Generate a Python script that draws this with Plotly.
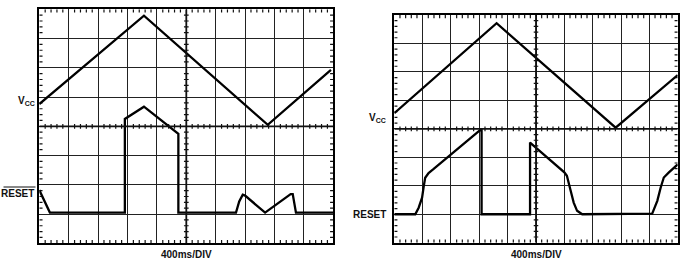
import numpy as np
import plotly.graph_objects as go

# ---- data (divisions: x 0..10, y 0..8) ----
vcc_left_t = [0, 3.56, 7.77, 9.92]
vcc_left_v = [4.76, 7.78, 4.05, 5.93]

reset_left_t = [0, 0.36, 2.91, 2.91, 3.56, 4.73, 4.73, 6.69, 6.8, 6.92, 7.0, 7.68, 8.55, 8.62, 8.73, 10]
reset_left_v = [1.82, 1.05, 1.05, 4.25, 4.67, 3.74, 1.05, 1.05, 1.43, 1.66, 1.63, 1.05, 1.68, 1.68, 1.05, 1.05]

vcc_right_t = [0, 3.61, 7.81, 10]
vcc_right_v = [4.55, 7.71, 4.04, 5.89]

reset_right_t = [0, 0.74, 0.86, 0.98, 1.04, 1.09, 1.21, 1.39, 3.08, 3.08, 4.79, 4.79,
                 6.0, 6.09, 6.21, 6.33, 6.45, 6.63, 9.1, 9.28, 9.4, 9.51, 9.69, 10]
reset_right_v = [1.0, 1.0, 1.23, 1.58, 1.99, 2.28, 2.45, 2.59, 4.0, 1.0, 1.0, 3.52,
                 2.47, 2.35, 1.88, 1.41, 1.12, 1.0, 1.02, 1.47, 1.94, 2.29, 2.47, 2.75]

time_label = "400ms/DIV"

W, H = 693, 268
panels = [
    dict(x0=39.3, x1=333.3, y0=9.3, y1=243.3),
    dict(x0=394.3, x1=677.7, y0=15.0, y1=242.7),
]

fig = go.Figure()


def tick_segments():
    xs, ys = [], []
    minor_x = [v for v in np.arange(0, 10.001, 0.2) if abs(v - round(v)) > 1e-6]
    minor_y = [v for v in np.arange(0, 8.001, 0.2) if abs(v - round(v)) > 1e-6]
    L = 0.11
    c = 0.08
    for v in minor_x:
        for (a, b) in [(0, L), (8, 8 - L), (4 - c, 4 + c)]:
            xs += [v, v, None]
            ys += [a, b, None]
    for v in minor_y:
        for (a, b) in [(0, L), (10, 10 - L), (5 - c, 5 + c)]:
            xs += [a, b, None]
            ys += [v, v, None]
    return xs, ys


series = [
    (vcc_left_t, vcc_left_v, reset_left_t, reset_left_v),
    (vcc_right_t, vcc_right_v, reset_right_t, reset_right_v),
]

for i, (p, s) in enumerate(zip(panels, series)):
    suf = "" if i == 0 else "2"
    xa, ya = "x" + suf, "y" + suf
    tx, ty = tick_segments()
    fig.add_trace(go.Scatter(x=tx, y=ty, mode="lines", line=dict(color="#111", width=1.2),
                             xaxis=xa, yaxis=ya, hoverinfo="skip", showlegend=False))
    fig.add_trace(go.Scatter(x=s[0], y=s[1], mode="lines", line=dict(color="#000", width=2.3),
                             xaxis=xa, yaxis=ya, showlegend=False))
    fig.add_trace(go.Scatter(x=s[2], y=s[3], mode="lines", line=dict(color="#000", width=2.3),
                             xaxis=xa, yaxis=ya, showlegend=False))
    axcommon = dict(showgrid=True, gridcolor="#222", gridwidth=1.3, zeroline=False,
                    showline=True, mirror=True, linecolor="#000", linewidth=2,
                    showticklabels=False, ticks="", fixedrange=True)
    fig.layout["xaxis" + suf] = dict(axcommon, range=[0, 10], dtick=1, tick0=0,
                                     domain=[p["x0"] / W, p["x1"] / W], anchor=ya)
    fig.layout["yaxis" + suf] = dict(axcommon, range=[0, 8], dtick=1, tick0=0,
                                     domain=[1 - p["y1"] / H, 1 - p["y0"] / H], anchor=xa)
    # thicker centre lines
    fig.add_shape(type="line", x0=5, x1=5, y0=0, y1=8, xref=xa, yref=ya,
                  line=dict(color="#111", width=1.8))
    fig.add_shape(type="line", x0=0, x1=10, y0=4, y1=4, xref=xa, yref=ya,
                  line=dict(color="#111", width=1.8))
    # time base label
    fig.add_annotation(text="<b>" + time_label + "</b>", x=(p["x0"] + p["x1"]) / 2 / W,
                       y=1 - 254 / H, xref="paper", yref="paper", showarrow=False,
                       xanchor="center", yanchor="middle",
                       font=dict(family="Liberation Sans, Arial", size=10, color="#111"))

lab_font = dict(family="Liberation Sans, Arial", size=10, color="#111")
# left labels
fig.add_annotation(text="<b>V<sub>CC</sub></b>", x=37 / W, y=1 - 101 / H, xref="paper", yref="paper",
                   xanchor="right", yanchor="middle", showarrow=False, font=lab_font)
fig.add_annotation(text="<b>RESET</b>", x=36 / W, y=1 - 193 / H, xref="paper", yref="paper",
                   xanchor="right", yanchor="middle", showarrow=False, font=lab_font)
fig.add_shape(type="line", x0=3.5 / W, x1=35.5 / W, y0=1 - 187 / H, y1=1 - 187 / H,
              xref="paper", yref="paper", line=dict(color="#111", width=1))
# right labels
fig.add_annotation(text="<b>V<sub>CC</sub></b>", x=388 / W, y=1 - 118 / H, xref="paper", yref="paper",
                   xanchor="right", yanchor="middle", showarrow=False, font=lab_font)
fig.add_annotation(text="<b>RESET</b>", x=388 / W, y=1 - 214 / H, xref="paper", yref="paper",
                   xanchor="right", yanchor="middle", showarrow=False, font=lab_font)

fig.update_layout(width=W, height=H, margin=dict(l=0, r=0, t=0, b=0),
                  paper_bgcolor="white", plot_bgcolor="white", showlegend=False)

fig.write_html("out.html")
